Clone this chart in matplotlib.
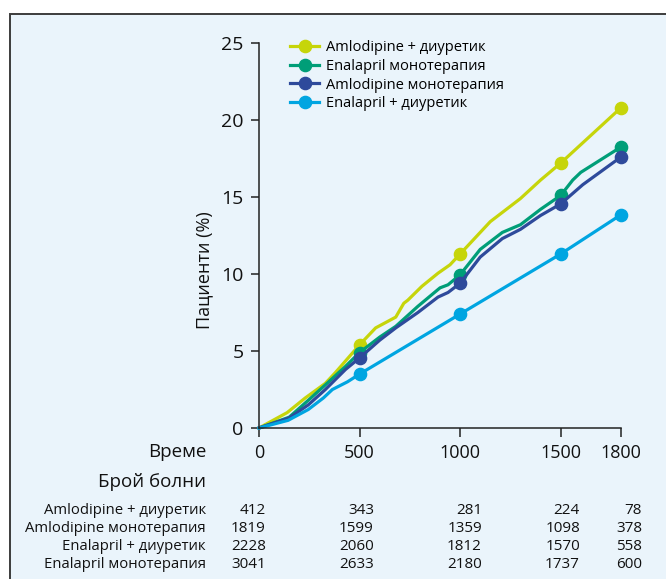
import matplotlib
matplotlib.use("Agg")
import matplotlib.pyplot as plt
from matplotlib.patches import Rectangle

# -------------------------------------------------------------
# Data
# -------------------------------------------------------------
series_labels = [
    "Amlodipine + диуретик",
    "Enalapril монотерапия",
    "Amlodipine монотерапия",
    "Enalapril + диуретик",
]
series_colors = ["#C6D50A", "#009E78", "#2E4A9B", "#00A5E1"]

aml_diur_t = [0, 140, 230, 330, 380, 440, 500, 580, 680, 720, 740, 810, 890, 950,
              1000, 1150, 1300, 1400, 1500, 1800]
aml_diur_v = [0, 1.0, 1.95, 2.9, 3.6, 4.5, 5.4, 6.5, 7.2, 8.1, 8.3, 9.2, 10.05, 10.6,
              11.3, 13.4, 14.9, 16.1, 17.2, 20.8]

enal_mono_t = [0, 150, 245, 330, 430, 500, 600, 680, 790, 900, 940, 1000, 1100, 1210,
               1300, 1400, 1500, 1560, 1600, 1800]
enal_mono_v = [0, 0.7, 1.8, 2.8, 4.0, 4.9, 5.9, 6.6, 7.9, 9.1, 9.3, 9.95, 11.6, 12.7,
               13.2, 14.2, 15.1, 16.1, 16.6, 18.25]

aml_mono_t = [0, 150, 245, 330, 430, 500, 600, 680, 790, 890, 940, 1000, 1100, 1210,
              1300, 1400, 1500, 1610, 1800]
aml_mono_v = [0, 0.65, 1.5, 2.5, 3.8, 4.55, 5.7, 6.5, 7.5, 8.5, 8.8, 9.4, 11.1, 12.3,
              12.9, 13.8, 14.55, 15.8, 17.6]

enal_diur_t = [0, 145, 245, 320, 365, 440, 500, 1000, 1500, 1800]
enal_diur_v = [0, 0.5, 1.2, 1.95, 2.5, 3.0, 3.5, 7.4, 11.3, 13.85]

marker_times = [500, 1000, 1500, 1800]
x_ticks = [0, 500, 1000, 1500, 1800]
y_ticks = [0, 5, 10, 15, 20, 25]

# patients at risk table
risk_labels = [
    "Amlodipine + диуретик",
    "Amlodipine монотерапия",
    "Enalapril + диуретик",
    "Enalapril монотерапия",
]
risk_aml_diur = [412, 343, 281, 224, 78]
risk_aml_mono = [1819, 1599, 1359, 1098, 378]
risk_enal_diur = [2228, 2060, 1812, 1570, 558]
risk_enal_mono = [3041, 2633, 2180, 1737, 600]

# -------------------------------------------------------------
# Figure
# -------------------------------------------------------------
W, H = 666, 579
fig = plt.figure(figsize=(W / 100, H / 100), dpi=100, facecolor="white")

BG = "#EAF4FB"
MAIN_FONT = ["Open Sans", "DejaVu Sans"]


def fx(px):
    return px / W


def fy(py):
    return 1 - py / H


# framed panel (behind everything)
fig.patches.append(Rectangle((fx(10), fy(H + 20)), 1.2, fy(14) - fy(H + 20),
                             transform=fig.transFigure, facecolor=BG,
                             edgecolor="#3c3c3c", linewidth=1.4, zorder=-10))

ax = fig.add_axes([fx(259), fy(428), fx(621) - fx(259), fy(43) - fy(428)])
ax.set_facecolor("none")
ax.set_zorder(2)

curves = [
    (aml_diur_t, aml_diur_v),
    (enal_mono_t, enal_mono_v),
    (aml_mono_t, aml_mono_v),
    (enal_diur_t, enal_diur_v),
]
for (t, v), label, color in zip(curves, series_labels, series_colors):
    marks = [i for i, x in enumerate(t) if x in marker_times]
    ax.plot(t, v, color=color, linewidth=2.3, marker="o", markersize=8.8,
            markevery=marks, label=label, clip_on=False, solid_joinstyle="round")

ax.set_xlim(0, 1800)
ax.set_ylim(0, 25)
ax.set_xticks(x_ticks)
ax.set_yticks(y_ticks)
ax.spines["top"].set_visible(False)
ax.spines["right"].set_visible(False)
for s in ("left", "bottom"):
    ax.spines[s].set_linewidth(1.1)
    ax.spines[s].set_color("#222222")
ax.tick_params(axis="y", length=6, width=1.1, pad=5, labelsize=14, colors="#222222")
ax.tick_params(axis="x", length=6.5, width=1.1, pad=5, labelsize=13, colors="#222222")
for lab in ax.get_xticklabels() + ax.get_yticklabels():
    lab.set_family(MAIN_FONT)
    lab.set_color("#111111")

fig.text(fx(204), fy(270), "Пациенти (%)", rotation=90, ha="center", va="center",
         fontsize=13, family=MAIN_FONT, color="#111111")

leg = ax.legend(loc="upper left", bbox_to_anchor=(fx(290), fy(40)),
                bbox_transform=fig.transFigure, frameon=False,
                handlelength=2.0, handletextpad=0.45, labelspacing=0.26,
                borderpad=0, borderaxespad=0, prop={"family": MAIN_FONT, "size": 10.5})

# -------------------------------------------------------------
# Time / patients-at-risk table
# -------------------------------------------------------------
fig.text(fx(206), fy(452), "Време", ha="right", va="center", fontsize=13.5,
         family=MAIN_FONT, color="#111111")
fig.text(fx(206), fy(482), "Брой болни", ha="right", va="center", fontsize=13.5,
         family=MAIN_FONT, color="#111111")

col_right = [266, 374, 482, 580, 642]
row_y = [510, 528, 546, 565]
risk_rows = [risk_aml_diur, risk_aml_mono, risk_enal_diur, risk_enal_mono]
for label, row, y in zip(risk_labels, risk_rows, row_y):
    fig.text(fx(206), fy(y), label, ha="right", va="center", fontsize=10.7,
             family=MAIN_FONT, color="#111111")
    for n, x in zip(row, col_right):
        fig.text(fx(x), fy(y), str(n), ha="right", va="center", fontsize=11,
                 family=MAIN_FONT, color="#111111")

fig.savefig("out.png", dpi=100, facecolor="white")
